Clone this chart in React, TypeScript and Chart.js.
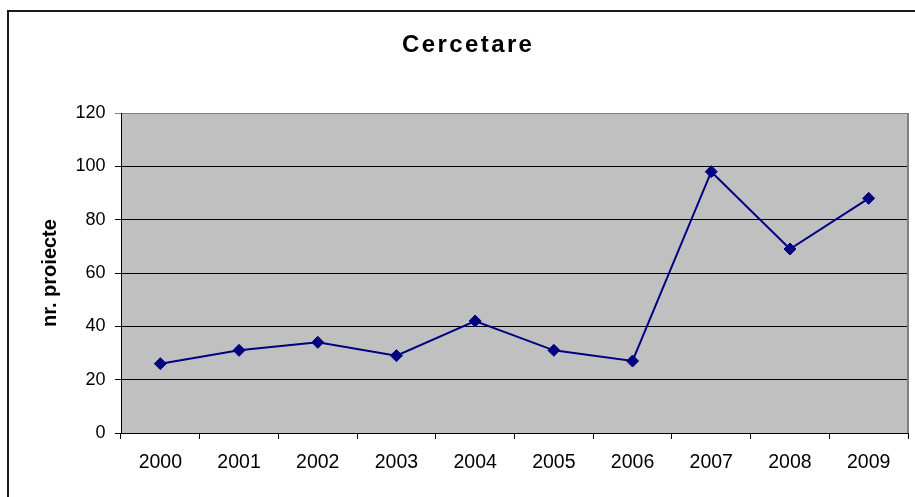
import React, { useEffect, useRef } from "react";
import { Chart, registerables } from "chart.js";

Chart.register(...registerables);

const TITLE = "Cercetare";
const Y_TITLE = "nr. proiecte";
const YEARS = ["2000", "2001", "2002", "2003", "2004", "2005", "2006", "2007", "2008", "2009"];
const PROJECTS = [26, 31, 34, 29, 42, 31, 27, 98, 69, 88];
const Y_MIN = 0;
const Y_MAX = 120;
const Y_STEP = 20;

const FONT = '"Liberation Sans", Arial, sans-serif';
const TITLE_SPACING = 2.4;

const framePlugin = {
  id: "frameAndBg",
  beforeDraw(chart: any) {
    const { ctx, chartArea } = chart;
    ctx.save();
    ctx.fillStyle = "#ffffff";
    ctx.fillRect(0, 0, chart.width, chart.height);
    ctx.strokeStyle = "#1a1a1a";
    ctx.lineWidth = 2;
    ctx.strokeRect(8, 11, 2000, 2000);
    ctx.fillStyle = "#C0C0C0";
    ctx.fillRect(chartArea.left, chartArea.top, chartArea.right - chartArea.left, chartArea.bottom - chartArea.top);
    ctx.restore();
  },
  beforeDatasetsDraw(chart: any) {
    const { ctx, chartArea } = chart;
    ctx.save();
    ctx.strokeStyle = "#808080";
    ctx.lineWidth = 2;
    ctx.beginPath();
    ctx.moveTo(chartArea.right, chartArea.top);
    ctx.lineTo(chartArea.right, chartArea.bottom);
    ctx.stroke();
    ctx.restore();
  },
  afterDraw(chart: any) {
    const { ctx } = chart;
    ctx.save();
    ctx.font = `bold 24px ${FONT}`;
    (ctx as any).letterSpacing = `${TITLE_SPACING}px`;
    ctx.fillStyle = "#000";
    ctx.textBaseline = "alphabetic";
    ctx.textAlign = "left";
    const w = ctx.measureText(TITLE).width - TITLE_SPACING;
    ctx.fillText(TITLE, 467 - w / 2, 52);
    ctx.restore();
  },
};

export default function App() {
  const ref = useRef<HTMLCanvasElement | null>(null);
  useEffect(() => {
    if (!ref.current) return;
    const chart = new Chart(ref.current, {
      type: "line",
      data: {
        labels: YEARS,
        datasets: [
          {
            data: PROJECTS,
            borderColor: "#000080",
            backgroundColor: "#000080",
            borderWidth: 2,
            pointStyle: "rectRot",
            pointRadius: 6,
            pointBorderWidth: 1,
            pointBackgroundColor: "#000080",
            pointBorderColor: "#000080",
            tension: 0,
            fill: false,
          },
        ],
      },
      options: {
        responsive: false,
        animation: false,
        layout: { padding: { left: 0, right: 3, top: 113, bottom: 0 } },
        plugins: {
          legend: { display: false },
          title: { display: false },
          tooltip: { enabled: false },
        },
        scales: {
          x: {
            type: "category",
            offset: true,
            grid: {
              offset: true,
              drawOnChartArea: false,
              drawTicks: true,
              tickLength: 6,
              color: "#000",
            },
            border: { color: "#000", width: 1 },
            ticks: {
              color: "#000",
              font: { family: FONT, size: 19.5 },
              padding: 11.5,
              maxRotation: 0,
              autoSkip: false,
            },
            afterFit(scale: any) {
              scale.height = 64;
            },
          },
          y: {
            min: Y_MIN,
            max: Y_MAX,
            grid: {
              color: (c: any) => (c.tick && c.tick.value === Y_MAX ? "#808080" : "#000"),
              lineWidth: 1,
              drawTicks: true,
              tickLength: 6,
            },
            border: { color: "#000", width: 1 },
            ticks: {
              stepSize: Y_STEP,
              color: "#000",
              font: { family: FONT, size: 18 },
              padding: 9.5,
            },
            title: {
              display: true,
              text: Y_TITLE,
              color: "#000",
              font: { family: FONT, size: 20, weight: "bold" },
              padding: { top: 38, bottom: 0 },
            },
            afterFit(scale: any) {
              scale.width = 121;
            },
          },
        },
      },
      plugins: [framePlugin],
    });
    return () => chart.destroy();
  }, []);
  return (
    <div style={{ position: "fixed", left: 0, top: 0, width: 915, height: 497, background: "#fff" }}>
      <canvas ref={ref} width={915} height={497} style={{ display: "block" }} />
    </div>
  );
}
